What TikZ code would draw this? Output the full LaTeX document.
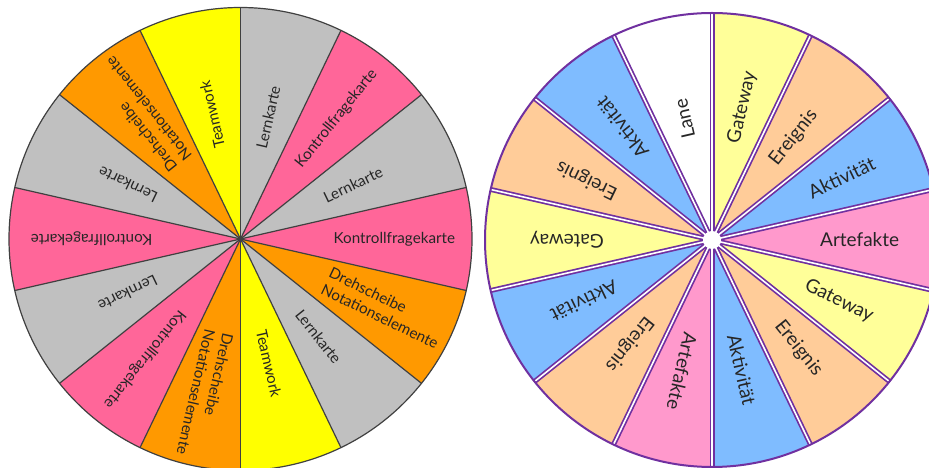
\documentclass[tikz,border=0pt]{standalone}
\usepackage{fontspec}
\setmainfont{Lato}
\definecolor{lgray}{RGB}{192,192,192}
\definecolor{lpink}{RGB}{255,102,153}
\definecolor{lorange}{RGB}{255,153,0}
\definecolor{lyellow}{RGB}{255,255,0}
\definecolor{lline}{RGB}{64,64,64}
\definecolor{ryellow}{RGB}{255,255,153}
\definecolor{rpeach}{RGB}{255,204,153}
\definecolor{rblue}{RGB}{127,188,255}
\definecolor{rpink}{RGB}{255,153,204}
\definecolor{rwhite}{RGB}{255,255,255}
\definecolor{rpurple}{RGB}{112,48,160}
\tikzset{
  llbl/.style={inner sep=0pt, anchor=west, align=left, font=\fontsize{15.2}{18.5}\selectfont, text=black!85},
  rlbl/.style={inner sep=0pt, anchor=west, align=left, font=\fontsize{19}{22}\selectfont, text=black!85},
}
\begin{document}
\begin{tikzpicture}[x=1pt,y=1pt]
\useasboundingbox (0,0) rectangle (929,468);
\clip (0,0) rectangle (929,468);
% ---------------- left wheel ----------------
\coordinate (L) at (240.5,229);
\def\lr{231.5}
\foreach \i/\col in {0/lgray,1/lpink,2/lgray,3/lpink,4/lorange,5/lgray,6/lyellow,7/lorange,8/lpink,9/lgray,10/lpink,11/lgray,12/lorange,13/lyellow}{
  \pgfmathsetmacro{\sa}{90-\i*360/14}
  \pgfmathsetmacro{\ea}{90-(\i+1)*360/14}
  \fill[\col] (L) -- ([shift={(\sa:\lr)}]L) arc[start angle=\sa, end angle=\ea, radius=\lr] -- cycle;
}
\foreach \i in {0,...,13}{
  \pgfmathsetmacro{\sa}{90-\i*360/14}
  \draw[lline, line width=1.2pt] (L) -- ([shift={(\sa:\lr)}]L);
}
\draw[lline, line width=1.2pt] (L) circle[radius=\lr];
\fill[lline] (L) circle[radius=3];
% labels
\foreach \i/\txt/\r in {0/Lernkarte/93,1/Kontrollfragekarte/93,2/Lernkarte/93,3/Kontrollfragekarte/93,4/{Drehscheibe\\Notationselemente}/95,5/Lernkarte/93,6/Teamwork/93,7/{Drehscheibe\\Notationselemente}/95,8/Kontrollfragekarte/93,9/Lernkarte/93,10/Kontrollfragekarte/88,11/Lernkarte/93,12/{Drehscheibe\\Notationselemente}/95,13/Teamwork/93}{
  \pgfmathsetmacro{\ma}{90-(\i+0.5)*360/14}
  \node[llbl, rotate=\ma] (lt\i) at ([shift={(\ma:\r)}]L) {\txt};
}
% ---------------- right wheel ----------------
\coordinate (R) at (712,228);
\def\rr{227}
\foreach \i/\col in {0/ryellow,1/rpeach,2/rblue,3/rpink,4/ryellow,5/rpeach,6/rblue,7/rpink,8/rpeach,9/rblue,10/ryellow,11/rpeach,12/rblue,13/rwhite}{
  \pgfmathsetmacro{\sa}{90-\i*360/14}
  \pgfmathsetmacro{\ea}{90-(\i+1)*360/14}
  \fill[\col] (R) -- ([shift={(\sa:\rr)}]R) arc[start angle=\sa, end angle=\ea, radius=\rr] -- cycle;
}
\foreach \i in {0,...,13}{
  \pgfmathsetmacro{\sa}{90-\i*360/14}
  \draw[rpurple, line width=5pt] (R) -- ([shift={(\sa:\rr)}]R);
}
\foreach \i in {0,...,13}{
  \pgfmathsetmacro{\sa}{90-\i*360/14}
  \draw[white, line width=1.6pt] (R) -- ([shift={(\sa:\rr+2)}]R);
}
\draw[rpurple, line width=2pt] (R) circle[radius=\rr];
\fill[white] (R) circle[radius=9];
\foreach \i/\txt/\r in {0/Gateway/99,1/Ereignis/98,2/Aktivität/108,3/Artefakte/108,4/Gateway/104,5/Ereignis/106,6/Aktivität/97,7/Artefakte/95,8/Ereignis/100,9/Aktivität/106,10/Gateway/108,11/Ereignis/106,12/Aktivität/108,13/Lane/104}{
  \pgfmathsetmacro{\ma}{90-(\i+0.5)*360/14}
  \node[rlbl, rotate=\ma] (rt\i) at ([shift={(\ma:\r)}]R) {\txt};
}
\end{tikzpicture}
\end{document}
